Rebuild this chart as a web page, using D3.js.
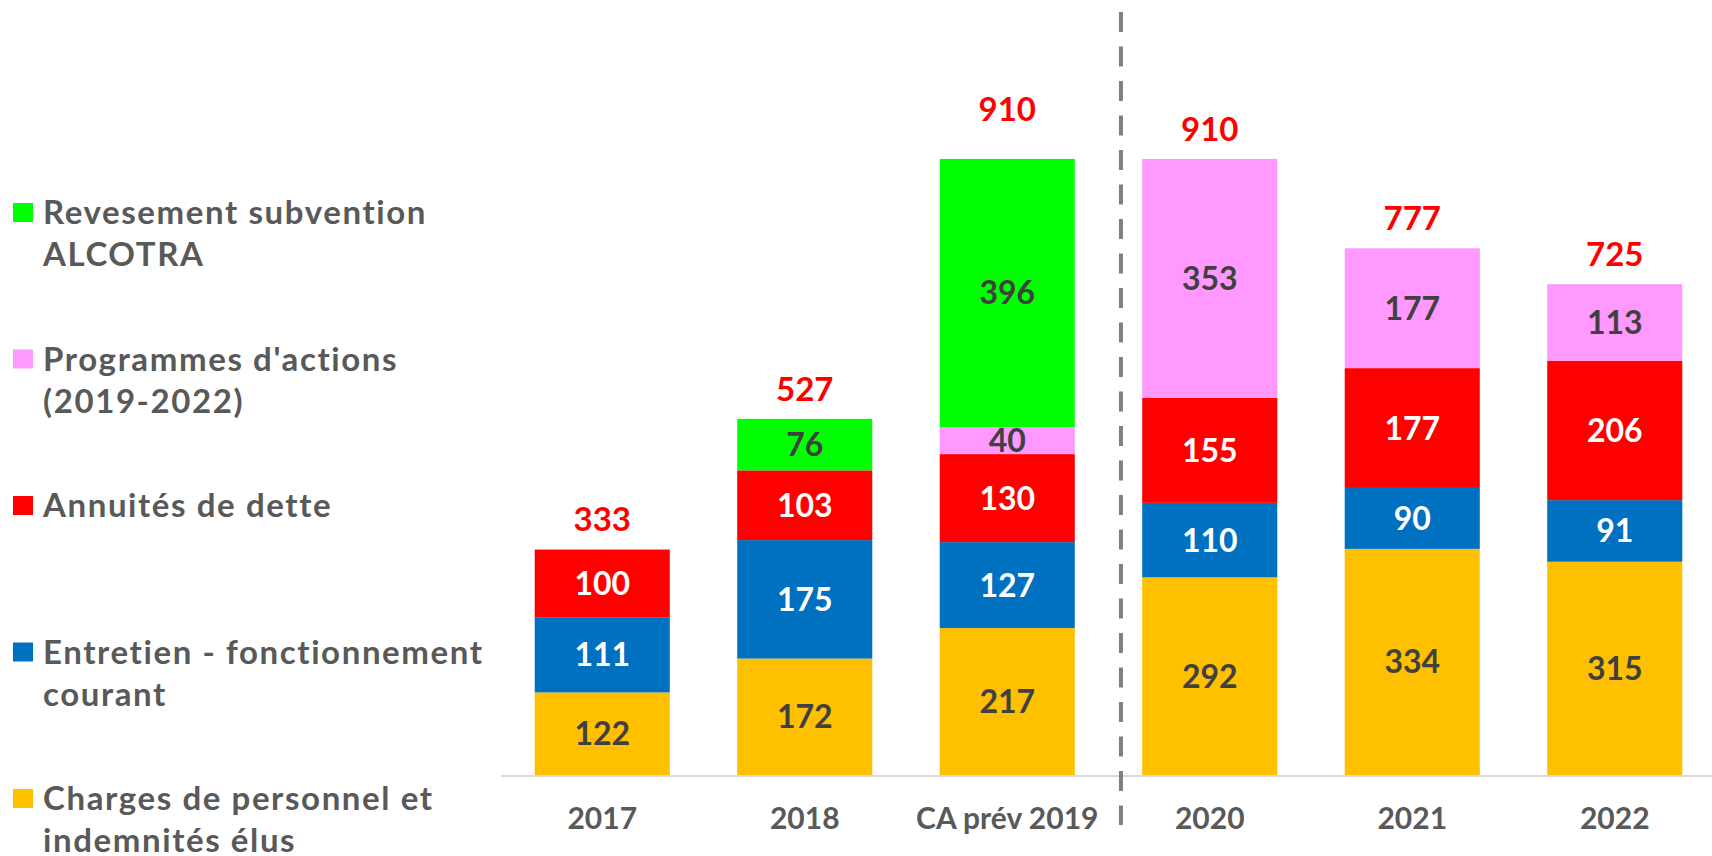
<!DOCTYPE html>
<html>
<head>
<meta charset="utf-8">
<script src="https://cdn.jsdelivr.net/npm/d3@7"></script>
<style>
  body { margin: 0; background: #fff; }
  svg text { font-family: Lato, "Open Sans", sans-serif; font-weight: bold; }
</style>
</head>
<body>
<svg id="chart"></svg>
<script>
// categories on the x axis
const categories = ["2017", "2018", "CA prév 2019", "2020", "2021", "2022"];

// series values, bottom of the stack first
const charges = [122, 172, 217, 292, 334, 315];
const entretien = [111, 175, 127, 110, 90, 91];
const annuites = [100, 103, 130, 155, 177, 206];
const programmes = [0, 0, 40, 353, 177, 113];
const alcotra = [0, 76, 396, 0, 0, 0];

// totals as printed above each bar
const totals = [333, 527, 910, 910, 777, 725];

const seriesNames = [
  "Charges de personnel et|indemnités élus",
  "Entretien - fonctionnement|courant",
  "Annuités de dette",
  "Programmes d'actions|(2019-2022)",
  "Revesement subvention|ALCOTRA",
];

const width = 1712;
const height = 856;

const margin = { top: 98, right: -4, bottom: 81, left: 501 };

const colors = ["#ffc000", "#0070c0", "#ff0000", "#ff99ff", "#00ff00"];
const labelColors = ["#404040", "#ffffff", "#ffffff", "#404040", "#404040"];

const svg = d3.select("#chart")
  .attr("width", width)
  .attr("height", height);

// build rows for d3.stack
const rows = categories.map((c, i) => ({
  cat: c,
  s0: charges[i],
  s1: entretien[i],
  s2: annuites[i],
  s3: programmes[i],
  s4: alcotra[i],
}));
const keys = ["s0", "s1", "s2", "s3", "s4"];
const stacked = d3.stack().keys(keys)(rows);

const xScale = d3.scaleBand()
  .domain(categories)
  .range([margin.left, width - margin.right])
  .paddingInner(0.333)
  .paddingOuter(0.1665);

const yScale = d3.scaleLinear()
  .domain([0, 1000])
  .range([height - margin.bottom, margin.top]);

// bars
const layers = svg.selectAll(".layer")
  .data(stacked)
  .enter()
  .append("g")
  .attr("class", "layer")
  .attr("fill", (d, i) => colors[i]);

layers.selectAll("rect")
  .data((d) => d.filter((p) => p[1] - p[0] > 0))
  .enter()
  .append("rect")
  .attr("x", (d) => xScale(d.data.cat))
  .attr("y", (d) => yScale(d[1]))
  .attr("width", xScale.bandwidth())
  .attr("height", (d) => yScale(d[0]) - yScale(d[1]));

// values inside the segments
stacked.forEach((layer, i) => {
  svg.append("g")
    .selectAll("text")
    .data(layer.filter((p) => p[1] - p[0] > 0))
    .enter()
    .append("text")
    .attr("x", (d) => xScale(d.data.cat) + xScale.bandwidth() / 2)
    .attr("y", (d) => yScale((d[0] + d[1]) / 2))
    .attr("dy", "0.36em")
    .attr("text-anchor", "middle")
    .attr("font-size", 32)
    .attr("fill", labelColors[i])
    .text((d) => d[1] - d[0]);
});

// baseline of the axis
svg.append("line")
  .attr("x1", margin.left)
  .attr("x2", width)
  .attr("y1", yScale(0) + 1)
  .attr("y2", yScale(0) + 1)
  .attr("stroke", "#d9d9d9")
  .attr("stroke-width", 2);

// x axis labels
const xAxis = svg.append("g")
  .attr("transform", `translate(0, ${yScale(0)})`)
  .call(d3.axisBottom(xScale).tickSize(0).tickPadding(33));
xAxis.select(".domain").remove();
xAxis.selectAll("text")
  .attr("font-size", 30)
  .attr("font-family", "Lato, sans-serif")
  .attr("fill", "#595959");

// totals above bars (the CA prév label sits a little higher)
const totalNudge = { "CA prév 2019": 20 };
svg.append("g")
  .selectAll("text")
  .data(categories)
  .enter()
  .append("text")
  .attr("x", (d) => xScale(d) + xScale.bandwidth() / 2)
  .attr("y", (d, i) => yScale(d3.max(stacked, (l) => l[i][1])) - 30 - (totalNudge[d] || 0))
  .attr("dy", "0.36em")
  .attr("text-anchor", "middle")
  .attr("font-size", 33)
  .attr("fill", "#ff0000")
  .text((d, i) => totals[i]);

// dashed divider between realised and forecast years
const divX = xScale("2020") - xScale.step() * 0.105;
svg.append("line")
  .attr("x1", divX)
  .attr("x2", divX)
  .attr("y1", 12)
  .attr("y2", 825)
  .attr("stroke", "#808080")
  .attr("stroke-width", 4)
  .attr("stroke-dasharray", "20,14.5");

// legend, top entry is the top of the stack
const legend = svg.append("g").attr("class", "legend");
const legendItems = seriesNames.map((name, i) => ({ name, i })).reverse();

legendItems.forEach((item, k) => {
  const baseY = 224 + k * 146.5;
  legend.append("rect")
    .attr("x", 13)
    .attr("y", baseY - 21)
    .attr("width", 20)
    .attr("height", 19)
    .attr("fill", colors[item.i]);

  const txt = legend.append("text")
    .attr("x", 43)
    .attr("y", baseY)
    .attr("font-size", 33)
    .attr("letter-spacing", 1.6)
    .attr("fill", "#595959");

  item.name.split("|").forEach((line, j) => {
    txt.append("tspan")
      .attr("x", 43)
      .attr("dy", j === 0 ? 0 : 42)
      .text(line);
  });
});
</script>
</body>
</html>
